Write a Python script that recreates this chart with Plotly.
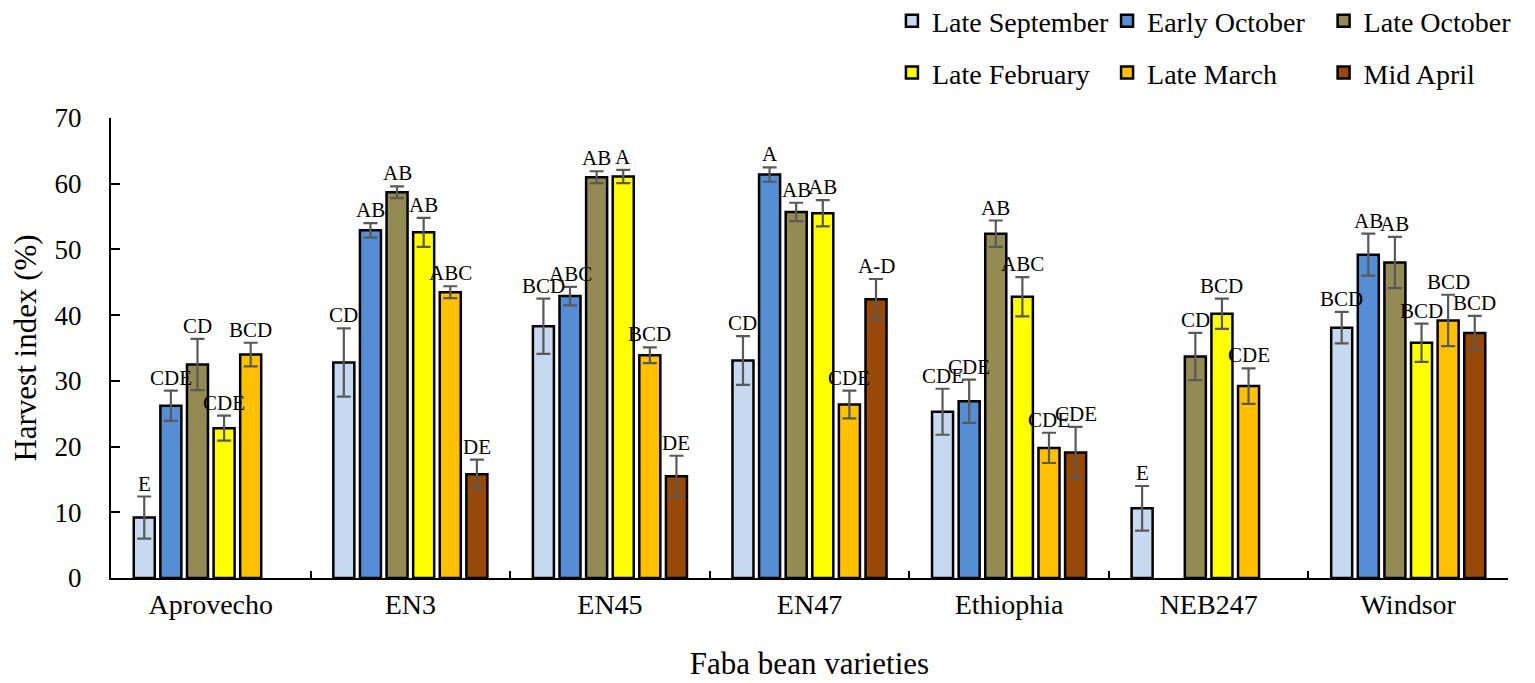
import plotly.graph_objects as go

varieties = ["Aprovecho", "EN3", "EN45", "EN47", "Ethiophia", "NEB247", "Windsor"]
series_names = ["Late September", "Early October", "Late October",
                "Late February", "Late March", "Mid April"]
colors = ["#C6D9F0", "#558ED5", "#948A54", "#FFFF00", "#FFC000", "#984807"]

late_september = [9.2, 32.8, 38.3, 33.1, 25.3, 10.6, 38.1]
early_october = [26.2, 52.9, 42.9, 61.4, 26.9, None, 49.2]
late_october = [32.5, 58.7, 61.0, 55.7, 52.4, 33.7, 48.0]
late_february = [22.8, 52.6, 61.1, 55.5, 42.8, 40.2, 35.8]
late_march = [34.0, 43.5, 33.9, 26.4, 19.8, 29.2, 39.2]
mid_april = [None, 15.8, 15.5, 42.4, 19.1, None, 37.3]

err_late_september = [3.2, 5.2, 4.2, 3.7, 3.5, 3.4, 2.4]
err_early_october = [2.3, 1.1, 1.4, 1.1, 3.3, None, 3.2]
err_late_october = [3.9, 0.9, 0.9, 1.4, 2.0, 3.6, 3.9]
err_late_february = [1.9, 2.2, 1.0, 2.0, 3.0, 2.3, 2.9]
err_late_march = [1.8, 0.9, 1.2, 2.1, 2.3, 2.7, 3.9]
err_mid_april = [None, 2.2, 3.1, 3.1, 3.9, None, 2.6]

lab_late_september = ["E", "CD", "BCD", "CD", "CDE", "E", "BCD"]
lab_early_october = ["CDE", "AB", "ABC", "A", "CDE", "", "AB"]
lab_late_october = ["CD", "AB", "AB", "AB", "AB", "CD", "AB"]
lab_late_february = ["CDE", "AB", "A", "AB", "ABC", "BCD", "BCD"]
lab_late_march = ["BCD", "ABC", "BCD", "CDE", "CDE", "CDE", "BCD"]
lab_mid_april = ["", "DE", "DE", "A-D", "CDE", "", "BCD"]

values = [late_september, early_october, late_october, late_february, late_march, mid_april]
errors = [err_late_september, err_early_october, err_late_october,
          err_late_february, err_late_march, err_mid_april]
labels = [lab_late_september, lab_early_october, lab_late_october,
          lab_late_february, lab_late_march, lab_mid_april]

FONT = "Liberation Serif"
W, H = 1535, 683
ML, MR, MT, MB = 103, 35, 110, 113
BARGAP = 0.2

legend_ids = ["legend", "legend2", "legend3", "legend4", "legend5", "legend6"]

fig = go.Figure()
for i, (name, col, vals, errs) in enumerate(zip(series_names, colors, values, errors)):
    fig.add_trace(go.Bar(
        x=varieties, y=vals, name=name, showlegend=True,
        marker=dict(color=col, line=dict(color="black", width=2.5)),
        error_y=dict(type="data", array=errs, visible=True,
                     color="#595959", thickness=2.2, width=7),
        legend=legend_ids[i],
    ))

# letter annotations above error bars
plot_w = W - ML - MR
slot = plot_w / len(varieties) * (1 - BARGAP) / len(series_names)
annotations = []
for i in range(len(series_names)):
    for j, v in enumerate(values[i]):
        if v is None or not labels[i][j]:
            continue
        annotations.append(dict(
            x=varieties[j], y=v + errors[i][j], xref="x", yref="y",
            text=labels[i][j], showarrow=False, yanchor="bottom",
            xshift=(i - (len(series_names) - 1) / 2) * slot, yshift=-1,
            font=dict(family=FONT, size=21, color="black"),
        ))

# legend placement: 3 columns x 2 rows
col_x = [0.559, 0.713, 0.868]
row_y = [1.211, 1.098]
legends = {}
for i, lid in enumerate(legend_ids):
    legends[lid] = dict(orientation="h", x=col_x[i % 3], y=row_y[i // 3],
                        xanchor="left", yanchor="middle", visible=True,
                        font=dict(family=FONT, size=28, color="black"),
                        itemwidth=30, bgcolor="rgba(0,0,0,0)")

fig.update_layout(
    width=W, height=H,
    margin=dict(l=ML, r=MR, t=MT, b=MB, autoexpand=False),
    paper_bgcolor="white", plot_bgcolor="white",
    showlegend=True,
    barmode="group", bargap=BARGAP, bargroupgap=0.21,
    font=dict(family=FONT, color="black"),
    annotations=annotations,
    xaxis=dict(
        showline=True, linecolor="black", linewidth=2,
        ticks="inside", tickson="boundaries", ticklen=7, tickwidth=2, tickcolor="black",
        tickfont=dict(family=FONT, size=28, color="black"),
        ticklabelstandoff=0,
        title=dict(text="Faba bean varieties", font=dict(family=FONT, size=31, color="black"),
                   standoff=34),
        showgrid=False,
    ),
    yaxis=dict(
        range=[0, 70], dtick=10,
        showline=True, linecolor="black", linewidth=2,
        ticks="inside", ticklen=9, tickwidth=2, tickcolor="black",
        tickfont=dict(family=FONT, size=27, color="black"),
        ticklabelstandoff=22,
        title=dict(text="Harvest index (%)", font=dict(family=FONT, size=31, color="black"),
                   standoff=12),
        showgrid=False, zeroline=False,
    ),
    **legends,
)

fig.write_html("out.html")
